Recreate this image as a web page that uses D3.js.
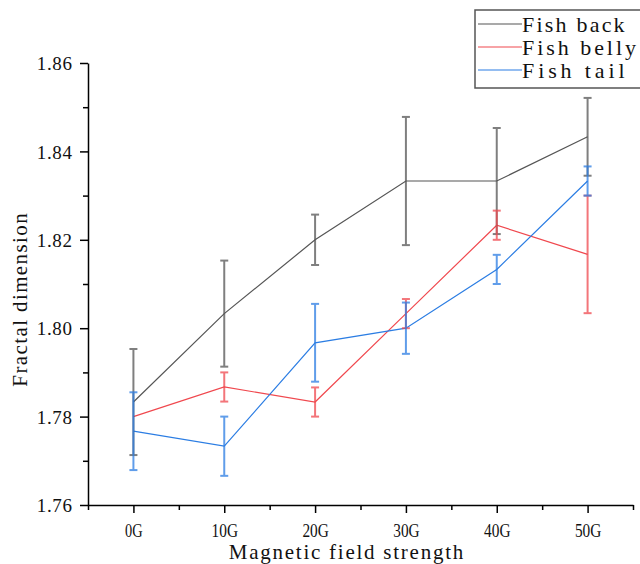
<!DOCTYPE html>
<html><head><meta charset="utf-8">
<script src="https://cdn.jsdelivr.net/npm/d3@7"></script>
<style>body{margin:0;background:#fff;} svg{display:block;}</style>
</head><body>
<svg id="c" width="640" height="564"></svg>
<script>
const categories = ["0G","10G","20G","30G","40G","50G"];
const seriesNames = ["Fish back","Fish belly","Fish tail"];
const backValues = [1.7833, 1.8033, 1.8200, 1.8333, 1.8333, 1.8433];
const backErrors = [0.0120, 0.0120, 0.0057, 0.0145, 0.0120, 0.0088];
const bellyValues = [1.7800, 1.7867, 1.7833, 1.8033, 1.8233, 1.8167];
const bellyErrors = [0.0000, 0.0033, 0.0033, 0.0033, 0.0033, 0.0133];
const tailValues = [1.7767, 1.7733, 1.7967, 1.8000, 1.8133, 1.8333];
const tailErrors = [0.0088, 0.0067, 0.0088, 0.0058, 0.0033, 0.0033];
const yTicks = [1.76, 1.78, 1.80, 1.82, 1.84, 1.86];
const colors = ["#555555", "#f0484e", "#2b7de3"];

const svg = d3.select("#c");
const font = "'Liberation Serif', 'DejaVu Serif', serif";
const charW = 8.8; // half-width glyph advance of the reference's CJK font
const x = d3.scaleLinear().domain([-0.5, categories.length - 0.5]).range([88, 633]);
const y = d3.scaleLinear().domain([1.76, 1.86]).range([505, 63]);

const series = [
  {name: seriesNames[0], v: backValues, e: backErrors, c: colors[0]},
  {name: seriesNames[1], v: bellyValues, e: bellyErrors, c: colors[1]},
  {name: seriesNames[2], v: tailValues, e: tailErrors, c: colors[2]}
];

// axes
const xAxis = d3.axisBottom(x).tickValues(d3.range(categories.length)).tickFormat(i => categories[i]).tickSize(8).tickSizeOuter(0);
const gx = svg.append("g").attr("transform", "translate(0,505)").call(xAxis);
gx.select(".domain").attr("stroke", "#000").attr("stroke-width", 1.5);
gx.selectAll(".tick line").attr("stroke", "#000").attr("stroke-width", 1.5);
gx.selectAll(".tick text").attr("font-family", font).attr("font-size", 19).attr("fill", "#111")
  .attr("y", 32).attr("dy", null)
  .attr("textLength", function() { return this.textContent.length * charW; }).attr("lengthAdjust", "spacingAndGlyphs");
const xMinor = d3.axisBottom(x).tickValues(d3.range(-0.5, categories.length, 1)).tickFormat("").tickSize(5).tickSizeOuter(0);
const gxm = svg.append("g").attr("transform", "translate(0,505)").call(xMinor);
gxm.select(".domain").remove();
gxm.selectAll(".tick line").attr("stroke", "#000").attr("stroke-width", 1.5);

const yAxis = d3.axisLeft(y).tickValues(yTicks).tickFormat(d3.format(".2f")).tickSize(8).tickSizeOuter(0);
const gy = svg.append("g").attr("transform", "translate(88,0)").call(yAxis);
gy.select(".domain").attr("stroke", "#000").attr("stroke-width", 1.5);
gy.selectAll(".tick line").attr("stroke", "#000").attr("stroke-width", 1.5);
gy.selectAll(".tick text").attr("font-family", font).attr("font-size", 19).attr("fill", "#111").attr("x", -16)
  .attr("dy", "0.35em")
  .attr("textLength", function() { return this.textContent.length * charW; }).attr("lengthAdjust", "spacing");
const yMinor = d3.axisLeft(y).tickValues(d3.range(1.77, 1.86, 0.02)).tickFormat("").tickSize(5).tickSizeOuter(0);
const gym = svg.append("g").attr("transform", "translate(88,0)").call(yMinor);
gym.select(".domain").remove();
gym.selectAll(".tick line").attr("stroke", "#000").attr("stroke-width", 1.5);

// axis titles
const xt = "Magnetic field strength", yt = "Fractal dimension";
svg.append("text").attr("x", 346).attr("y", 559).attr("text-anchor", "middle")
  .attr("font-family", font).attr("font-size", 21).attr("fill", "#111")
  .attr("textLength", xt.length * 10.2).attr("lengthAdjust", "spacing").text(xt);
svg.append("text").attr("transform", "translate(27,300) rotate(-90)").attr("text-anchor", "middle")
  .attr("font-family", font).attr("font-size", 21).attr("fill", "#111")
  .attr("textLength", yt.length * 10.2).attr("lengthAdjust", "spacing").text(yt);

// lines
const line = d3.line().x((d, i) => x(i)).y(d => y(d));
series.forEach(s => {
  svg.append("path").datum(s.v).attr("d", line).attr("fill", "none").attr("stroke", s.c).attr("stroke-width", 1.2);
});
// error bars
series.forEach(s => {
  const g = svg.append("g").attr("stroke", s.c).attr("stroke-width", 2).attr("opacity", 0.75);
  s.v.forEach((v, i) => {
    if (s.e[i] <= 0) return;
    const cx = x(i), t = y(v + s.e[i]), b = y(v - s.e[i]);
    g.append("line").attr("x1", cx).attr("x2", cx).attr("y1", t).attr("y2", b);
    g.append("line").attr("x1", cx - 4).attr("x2", cx + 4).attr("y1", t).attr("y2", t);
    g.append("line").attr("x1", cx - 4).attr("x2", cx + 4).attr("y1", b).attr("y2", b);
  });
});

// legend
const lg = svg.append("g");
lg.append("rect").attr("x", 475).attr("y", 10).attr("width", 175).attr("height", 78)
  .attr("fill", "#fff").attr("stroke", "#555").attr("stroke-width", 1.5);
series.forEach((s, i) => {
  const yy = 24 + i * 23;
  lg.append("line").attr("x1", 478).attr("x2", 522).attr("y1", yy).attr("y2", yy).attr("stroke", s.c).attr("stroke-width", 1.2);
  lg.append("text").attr("x", 522).attr("y", yy + 8).attr("font-family", font).attr("font-size", 22).attr("fill", "#111")
    .attr("textLength", s.name.length * 11.4).attr("lengthAdjust", "spacing").text(s.name);
});
</script>
</body></html>
